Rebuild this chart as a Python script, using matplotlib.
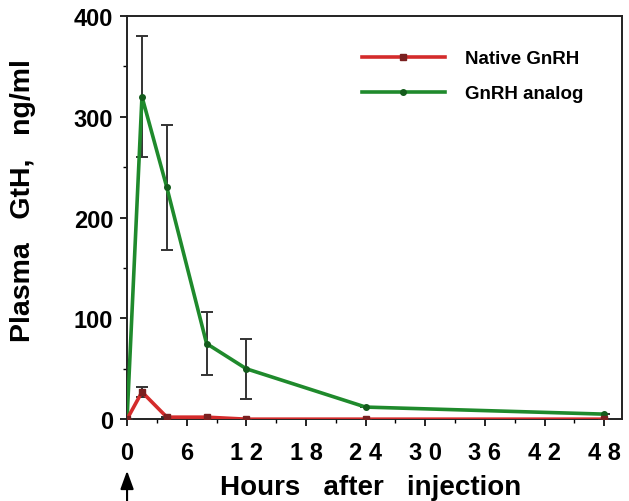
import matplotlib
matplotlib.use("Agg")
import matplotlib.pyplot as plt
from matplotlib.lines import Line2D
from matplotlib.ticker import MultipleLocator

plt.rcParams['font.family'] = ['Liberation Sans', 'DejaVu Sans']
plt.rcParams['font.weight'] = 'bold'

# data
hours = [0, 1.5, 4, 8, 12, 24, 48]
native = [0, 27, 2, 2, 0, 0, 0]
native_err = [0, 5, 0, 0, 0, 0, 0]
analog = [0, 320, 230, 75, 50, 12, 5]
analog_err = [0, 60, 62, 31, 30, 0, 0]

xticks = [0, 6, 12, 18, 24, 30, 36, 42, 48]
xticklabels = ['0', '6', '1 2', '1 8', '2 4', '3 0', '3 6', '4 2', '4 8']
yticks = [0, 100, 200, 300, 400]

red = '#d42b2b'
green = '#1f8a2c'

fig = plt.figure(figsize=(6.29, 5.02), dpi=100)
ax = fig.add_axes([0.202, 0.163, 0.787, 0.803])

ax.errorbar(hours, analog, yerr=analog_err, color=green, lw=2.6, marker='o', ms=4,
            mfc='#145c1c', mec='#145c1c', ecolor='#333333', elinewidth=1.4, capsize=4,
            capthick=1.4, zorder=3)
ax.errorbar(hours, native, yerr=native_err, color=red, lw=2.6, marker='s', ms=4,
            mfc='#7a2020', mec='#7a2020', ecolor='#333333', elinewidth=1.4, capsize=4,
            capthick=1.4, zorder=4)

ax.set_xlim(0, 49.8)
ax.set_ylim(0, 400)
ax.set_xticks(xticks)
ax.set_xticklabels(xticklabels)
ax.set_yticks(yticks)
ax.xaxis.set_minor_locator(MultipleLocator(3))
ax.yaxis.set_minor_locator(MultipleLocator(50))
ax.tick_params(axis='both', which='major', labelsize=17, length=5, width=1.2, direction='out')
ax.tick_params(axis='both', which='minor', length=3, width=1.0, direction='out')
ax.tick_params(axis='x', pad=11)
ax.tick_params(axis='y', pad=5)
for lbl in ax.get_xticklabels() + ax.get_yticklabels():
    lbl.set_fontweight('bold')
for s in ax.spines.values():
    s.set_linewidth(1.4)
    s.set_color('#222222')

ax.set_ylabel('Plasma   GtH,   ng/ml', fontsize=20.5, fontweight='bold')
ax.yaxis.set_label_coords(-0.184, 0.546)
ax.set_xlabel('Hours   after   injection', fontsize=20, fontweight='bold')
ax.xaxis.set_label_coords(0.493, -0.135)

handles = [Line2D([], [], color=red, lw=2.6, marker='s', ms=4, mfc='#7a2020', mec='#7a2020'),
           Line2D([], [], color=green, lw=2.6, marker='o', ms=4, mfc='#145c1c', mec='#145c1c')]
ax.legend(handles, ['Native GnRH', 'GnRH analog'], loc='upper left',
          bbox_to_anchor=(362 / 629, 1 - 51 / 502), bbox_transform=fig.transFigure,
          frameon=False, borderpad=0, borderaxespad=0, handlelength=4.4,
          handletextpad=1.1, labelspacing=0.95, prop={'size': 13.5, 'weight': 'bold'})

# injection arrow below 0
ax.annotate('', xy=(0, -0.128), xycoords=('data', 'axes fraction'),
            xytext=(0, -0.23), textcoords=('data', 'axes fraction'),
            arrowprops=dict(arrowstyle='-|>,head_length=0.55,head_width=0.2',
                            color='black', lw=1.5, mutation_scale=20,
                            shrinkA=0, shrinkB=0),
            annotation_clip=False)

fig.savefig('out.png', dpi=100)
